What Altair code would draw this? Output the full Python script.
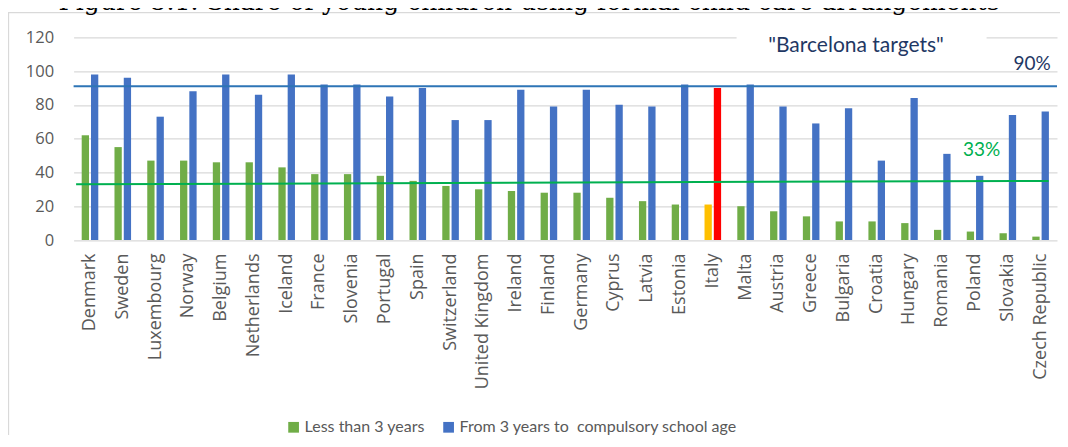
import altair as alt
import pandas as pd

countries = ["Denmark", "Sweden", "Luxembourg", "Norway", "Belgium", "Netherlands",
             "Iceland", "France", "Slovenia", "Portugal", "Spain", "Switzerland",
             "United Kingdom", "Ireland", "Finland", "Germany", "Cyprus", "Latvia",
             "Estonia", "Italy", "Malta", "Austria", "Greece", "Bulgaria", "Croatia",
             "Hungary", "Romania", "Poland", "Slovakia", "Czech Republic"]
under3 = [62, 55, 47, 47, 46, 46, 43, 39, 39, 38, 35, 32, 30, 29, 28, 28, 25, 23,
          21, 21, 20, 17, 14, 11, 11, 10, 6, 5, 4, 2]
over3 = [98, 96, 73, 88, 98, 86, 98, 92, 92, 85, 90, 71, 71, 89, 79, 89, 80, 79,
         92, 90, 92, 79, 69, 78, 47, 84, 51, 38, 74, 76]
series_names = ["Less than 3 years", "From 3 years to\u00a0 compulsory school age"]
highlight = "Italy"
target_over3 = 91
target_under3_start = 33
target_under3_end = 35
y_ticks = [0, 20, 40, 60, 80, 100, 120]
title_text = "Figure 5.1: Share of young children using formal child care arrangements"

rows = []
for c, a, b in zip(countries, under3, over3):
    rows.append({"country": c, "series": series_names[0], "value": a,
                 "ckey": ("Italy <3" if c == highlight else series_names[0])})
    rows.append({"country": c, "series": series_names[1], "value": b,
                 "ckey": ("Italy 3+" if c == highlight else series_names[1])})
df = pd.DataFrame(rows)

W, H = 983.4, 202.7
FONT = "Open Sans"
GRAY = "#595959"
NAVY = "#1f3864"

y_axis = alt.Axis(values=y_ticks, ticks=False, domain=False,
                  labelPadding=20, labelFontSize=16.5, labelFont=FONT,
                  labelColor=GRAY, grid=True, gridColor="#d9d9d9",
                  gridWidth=1.3, labelOverlap=False)
y_scale = alt.Scale(domain=[0, 120], nice=False)

color_scale = alt.Scale(domain=series_names + ["Italy <3", "Italy 3+"],
                        range=["#70ad47", "#4472c4", "#ffc000", "#ff0000"])

bars = alt.Chart(df).mark_bar().encode(
    x=alt.X("country:N", sort=countries, title=None,
            scale=alt.Scale(paddingInner=0.494, paddingOuter=0.247),
            axis=alt.Axis(labelAngle=-90, labelAlign="right", labelBaseline="middle",
                          labelPadding=13, ticks=False, domain=False, grid=False,
                          labelFontSize=18, labelFont=FONT, labelColor=GRAY,
                          labelOverlap=False, labelLimit=0)),
    xOffset=alt.XOffset("series:N", sort=series_names,
                        scale=alt.Scale(domain=series_names, paddingInner=0.215, paddingOuter=0)),
    y=alt.Y("value:Q", title=None, scale=y_scale, axis=y_axis),
    color=alt.Color("ckey:N", scale=color_scale, title=None,
                    legend=alt.Legend(values=series_names, orient="none",
                                      direction="horizontal", legendX=212, legendY=382,
                                      symbolType="square", symbolSize=115,
                                      symbolStrokeWidth=0, labelFontSize=16,
                                      labelFont="Lato", labelColor=GRAY,
                                      labelOffset=3, columnPadding=15, labelLimit=0)),
)

frame = alt.Chart(pd.DataFrame({"k": [0]})).mark_rect(
    fill=None, stroke="#d9d9d9", strokeWidth=1.3
).encode(x=alt.value(-65.1), x2=alt.value(W + 60), y=alt.value(-24.6), y2=alt.value(H + 300))

whitebox = alt.Chart(pd.DataFrame({"k": [0]})).mark_rect(fill="white").encode(
    x=alt.value(663), x2=alt.value(913), y=alt.value(-6), y2=alt.value(16))

blue_line = alt.Chart(pd.DataFrame({"t": [target_over3]})).mark_rule(
    color="#2e75b6", strokeWidth=2).encode(y=alt.Y("t:Q", title=None, scale=y_scale, axis=y_axis))

green_line = alt.Chart(pd.DataFrame({"a": [target_under3_start], "b": [target_under3_end]})).mark_rule(
    color="#00b050", strokeWidth=2).encode(
    x=alt.value(2.5), x2=alt.value(975),
    y=alt.Y("a:Q", title=None, scale=y_scale, axis=y_axis), y2="b:Q")

def label(text, x, y, color, size, align, font=FONT):
    return alt.Chart(pd.DataFrame({"t": [text]})).mark_text(
        align=align, baseline="alphabetic", color=color, fontSize=size, font=font
    ).encode(text="t:N", x=alt.value(x), y=alt.value(y))

t_barca = label('"Barcelona targets"', 782.4, 14.4, NAVY, 21, "center", "Lato")
t_90 = label("90%", 977.1, 32.7, NAVY, 19, "right", "Lato")
t_33 = label("33%", 889.4, 118.7, "#00b050", 19, "left", "Lato")
t_title = label(title_text, 455.4, -27.5, "black", 25, "center", "DejaVu Serif")

chart = alt.layer(frame, whitebox, bars, blue_line, green_line, t_barca, t_90, t_33, t_title).properties(
    width=W, height=H,
    autosize=alt.AutoSizeParams(type="none"),
    padding={"left": 65.6, "top": 29.3, "right": 3, "bottom": 195},
).configure_view(stroke=None).configure_axisY(labelOverlap=False)

chart.save("out.html", embed_options={"renderer": "svg", "actions": False})
